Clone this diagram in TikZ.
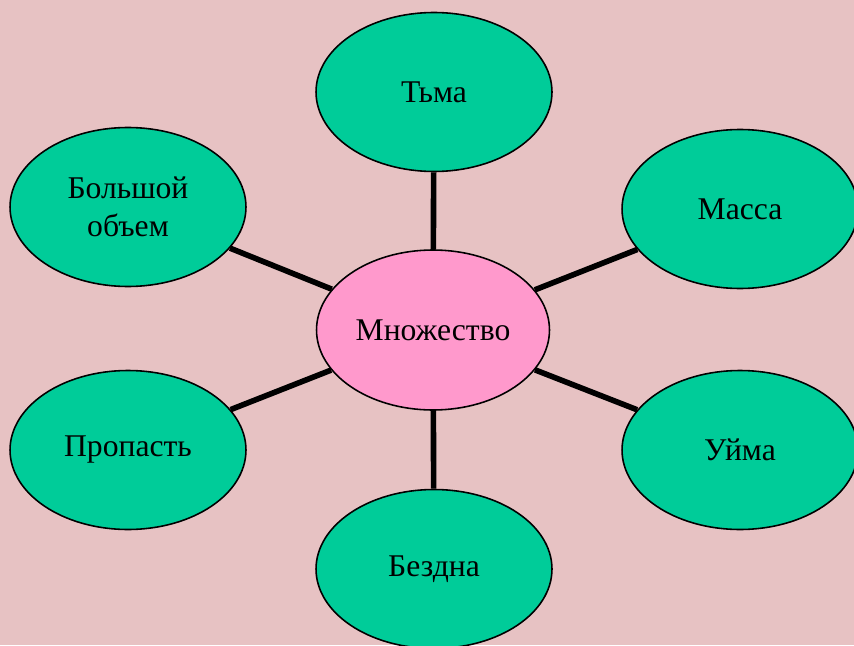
\documentclass[tikz,border=0pt]{standalone}
\usepackage{fontspec}
\setmainfont{Liberation Serif}
\usetikzlibrary{shapes.geometric}

\definecolor{bgpink}{RGB}{231,194,195}
\definecolor{leafgreen}{RGB}{0,204,153}
\definecolor{hubpink}{RGB}{255,153,204}

\tikzset{
  leaf/.style={ellipse, draw=black, line width=0.9pt, fill=leafgreen,
    minimum width=4.72cm, minimum height=3.18cm, inner sep=0pt, align=center,
    font=\fontsize{18}{21.5}\selectfont},
  hub/.style={leaf, fill=hubpink, minimum width=4.66cm, minimum height=3.2cm},
  spoke/.style={line width=3.2pt, draw=black}
}

\begin{document}
\begin{tikzpicture}[x=0.02cm,y=-0.02cm]
  % Background
  \fill [bgpink] (0,0) rectangle (854,645);
  \useasboundingbox (0,0) rectangle (854,645);

  % Marking the centre
  \node [hub] (mnozh) at (433,330) {Множество};

  % Marking the leaves
  \node [leaf] (tma) at (434,92) {Тьма};
  \node [leaf] (bolsh) at (128,207) {Большой\\ объем};
  \node [leaf] (massa) at (740,209) {Масса};
  \node [leaf] (propast) at (128,450) {Пропасть};
  \node [leaf] (uima) at (740,450) {Уйма};
  \node [leaf] (bezdna) at (434,569) {Бездна};

  % Drawing the spokes
  \foreach \leafname in {tma,bolsh,massa,propast,uima,bezdna}
    \draw [spoke] (mnozh) -- (\leafname);
\end{tikzpicture}
\end{document}
